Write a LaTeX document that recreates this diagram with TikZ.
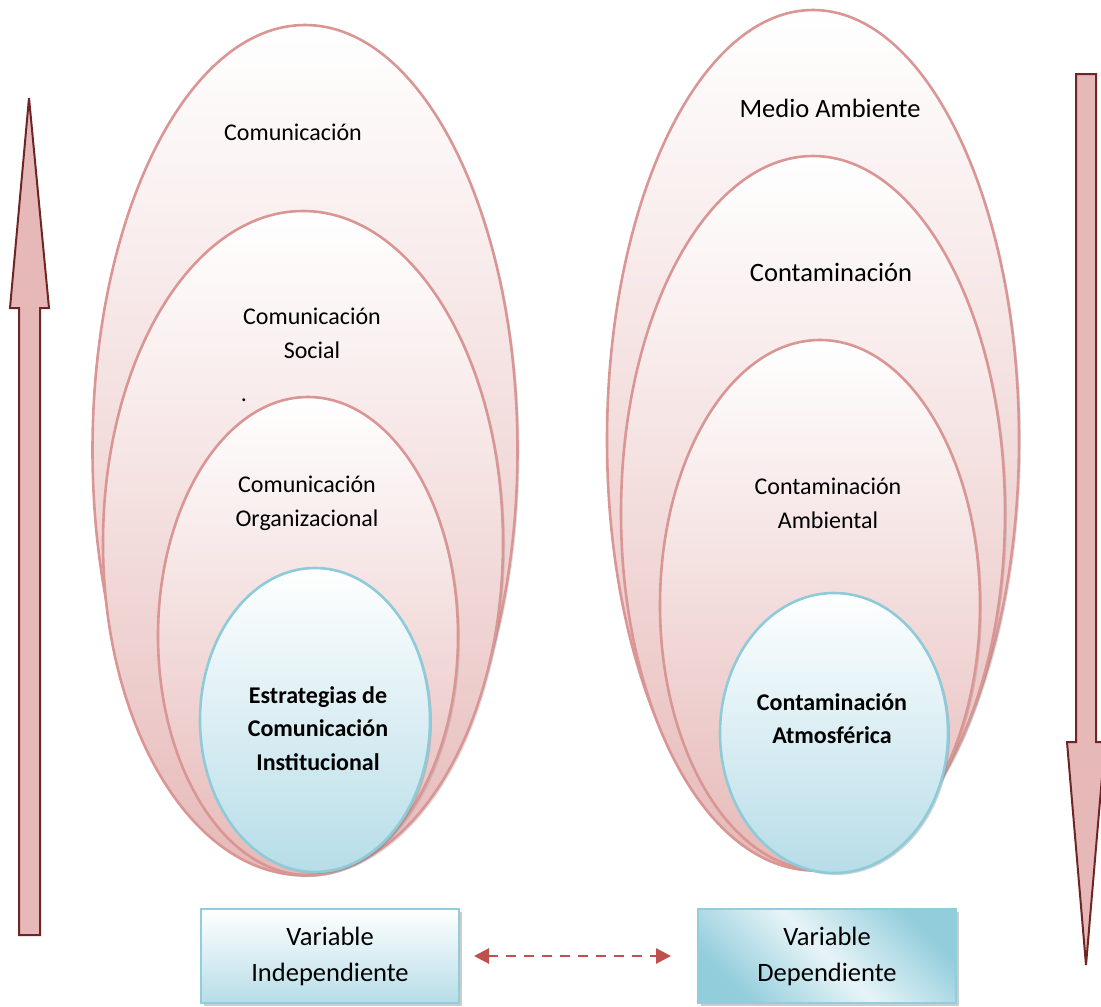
\documentclass[tikz,border=0pt]{standalone}
\usepackage{fontspec}
\setmainfont{Carlito}
\usetikzlibrary{shapes.geometric,arrows.meta,shadows}
\definecolor{pinkline}{HTML}{D99694}
\definecolor{pinkfill}{HTML}{E6B9B8}
\definecolor{blueline}{HTML}{8ECBD9}
\definecolor{bluefill}{HTML}{B7DDE8}
\definecolor{arrowline}{HTML}{6E2624}
\definecolor{dashred}{HTML}{C0504D}
\definecolor{boxblue}{HTML}{92CDDC}
\tikzset{
  pinkell/.style={ellipse, inner sep=0pt, draw=pinkline, line width=2.6pt,
    shading=axis, top color=white, bottom color=pinkfill,
    drop shadow={shadow xshift=2pt, shadow yshift=-2pt, opacity=0.25}},
  blueell/.style={ellipse, inner sep=0pt, draw=blueline, line width=2.6pt,
    shading=axis, top color=white, bottom color=bluefill,
    drop shadow={shadow xshift=2pt, shadow yshift=-2pt, opacity=0.35}},
  lbl/.style={align=center, inner sep=0pt, font=\fontsize{24}{34}\selectfont},
  lblbig/.style={align=center, inner sep=0pt, font=\fontsize{26.5}{34}\selectfont},
  lblbold/.style={align=center, inner sep=0pt, font=\fontsize{24}{33.5}\selectfont\bfseries},
  varbox/.style={rectangle, draw=boxblue, line width=2pt, minimum width=258pt,
    minimum height=94pt, inner sep=0pt, align=center,
    font=\fontsize{26.5}{36}\selectfont,
    drop shadow={shadow xshift=3pt, shadow yshift=-3pt, opacity=0.4}},
  bigarrow/.style={draw=arrowline, line width=2pt, fill=pinkfill, line join=miter},
}
\begin{document}
\begin{tikzpicture}[x=1pt,y=-1pt]
\useasboundingbox (0,0) rectangle (1101,1007);
% left ellipses
\node[pinkell, minimum width=425pt, minimum height=850pt] (lA) at (305,450) {};
\node[pinkell, minimum width=400pt, minimum height=664pt] (lB) at (303,543) {};
\node[pinkell, minimum width=300pt, minimum height=478pt] (lC) at (308,636) {};
\node[blueell, minimum width=230pt, minimum height=304pt] (lD) at (315,720) {};
% right ellipses
\node[pinkell, minimum width=412pt, minimum height=860pt] (rA) at (813,440) {};
\node[pinkell, minimum width=384pt, minimum height=714pt] (rB) at (813,513) {};
\node[pinkell, minimum width=320pt, minimum height=530pt] (rC) at (820,605) {};
\node[blueell, minimum width=228pt, minimum height=280pt] (rD) at (834,733) {};
% labels left
\node[lbl] (tA) at (293,132) {Comunicación};
\node[lbl] (tB) at (312,333) {Comunicación\\Social};
\node[lbl] (tdot) at (244,400) {.};
\node[lbl] (tC) at (307,503) {Comunicación\\Organizacional};
\node[lblbold] (tD) at (318,728.5) {Estrategias de\\Comunicación\\Institucional};
% labels right
\node[lblbig] (uA) at (830,108) {Medio Ambiente};
\node[lblbig] (uB) at (831,272) {Contaminación};
\node[lbl] (uC) at (828,503) {Contaminación\\Ambiental};
\node[lblbold] (uD) at (832,718.5) {Contaminación\\Atmosférica};
% boxes
\node[varbox, shading=axis, top color=white, bottom color=bluefill] (lbox) at (330,956) {Variable\\Independiente};
\node[varbox, shading=axis, left color=boxblue, right color=boxblue, middle color=boxblue!22, shading angle=135] (rbox) at (827,956) {Variable\\Dependiente};
% dashed arrow
\draw[dashred, line width=2.8pt, dash pattern=on 10pt off 8pt,
  {Triangle[length=15pt,width=15pt]}-{Triangle[length=15pt,width=15pt]},
  shorten <=14pt, shorten >=26pt] (lbox.east) -- (rbox.west);
% big arrows
\draw[bigarrow] (29,98) -- (49,308) -- (40,308) -- (40,935) -- (19,935) -- (19,308) -- (10,308) -- cycle;
\draw[bigarrow] (1086,965) -- (1105,742) -- (1096,742) -- (1096,74) -- (1076,74) -- (1076,742) -- (1067,742) -- cycle;
\end{tikzpicture}
\end{document}
